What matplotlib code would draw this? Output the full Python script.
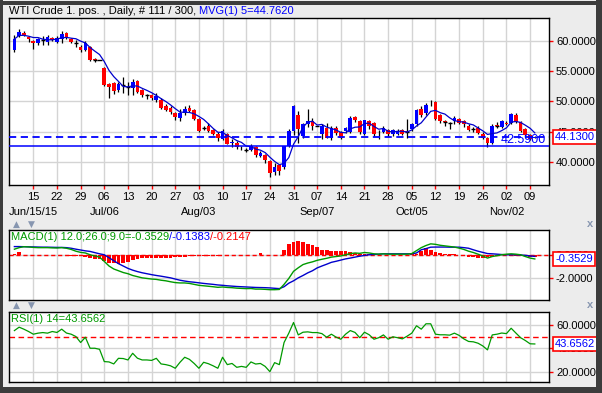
import matplotlib
matplotlib.use("Agg")
import matplotlib.pyplot as plt
import numpy as np
import pandas as pd
from matplotlib.patches import Rectangle
from matplotlib.transforms import blended_transform_factory

plt.rcParams['font.family'] = ['Liberation Sans', 'DejaVu Sans']

# ---- data (one value per daily bar) ----
opens = [58.5, 60.9, 61.4, 60.7, 60.05, 59.6, 60.2, 59.9, 60.45, 59.8,
         60.33, 61.3, 60.33, 59.75, 59.05, 58.5, 58.95, 56.95, 56.9, 55.6,
         52.95, 53.1, 51.9, 52.75, 52.45, 52.3, 53.4, 51.9, 51.05, 51.0,
         50.2, 50.3, 49.3, 48.9, 48.05, 47.3, 48.05, 48.9, 48.6, 47.1,
         45.65, 46.0, 45.3, 44.7, 43.8, 44.6, 43.2, 43.2, 42.5, 42.05,
         42.0, 42.4, 41.0, 41.1, 40.2, 38.3, 39.45, 39.2, 42.7, 45.2,
         47.7, 44.33, 46.3, 46.8, 46.0, 44.6, 45.7, 44.05, 45.55, 44.9,
         45.05, 45.0, 47.4, 46.8, 44.7, 46.7, 46.4, 44.6, 45.0, 45.3,
         44.6, 44.6, 45.3, 45.05, 45.45, 46.3, 48.8, 48.05, 49.8, 49.9,
         47.7, 46.7, 46.45, 46.7, 47.1, 46.7, 46.0, 45.45, 45.7, 44.7,
         44.05, 43.2, 46.05, 45.8, 46.5, 46.4, 47.7, 46.55, 45.4, 44.4,
         43.9]
highs = [61.0, 62.0, 61.7, 60.9, 60.2, 60.5, 60.9, 61.0, 60.6, 60.8,
         61.6, 61.5, 60.5, 60.2, 59.3, 60.0, 59.1, 57.2, 56.9, 55.7,
         53.1, 53.3, 53.3, 54.1, 53.3, 53.7, 53.6, 52.0, 51.3, 51.2,
         51.4, 50.5, 49.6, 49.2, 48.2, 48.8, 49.2, 49.4, 48.8, 47.2,
         45.9, 46.4, 45.5, 44.9, 45.4, 44.8, 43.8, 43.4, 42.7, 42.3,
         43.0, 42.6, 41.8, 41.3, 40.3, 39.9, 39.6, 42.7, 45.4, 49.5,
         48.5, 46.5, 48.7, 47.2, 46.0, 46.3, 46.4, 46.0, 45.9, 45.1,
         45.8, 47.6, 47.6, 47.0, 47.0, 46.9, 46.6, 45.3, 45.9, 45.5,
         45.5, 45.4, 45.5, 47.1, 46.5, 48.8, 49.2, 49.8, 50.2, 50.0,
         47.9, 47.0, 46.6, 47.6, 47.3, 46.9, 46.2, 45.8, 45.9, 45.0,
         44.2, 46.2, 46.6, 46.9, 46.7, 48.1, 48.1, 46.7, 45.6, 44.6,
         44.3]
lows = [58.2, 60.6, 60.8, 59.8, 58.7, 59.3, 59.3, 59.3, 60.0, 59.6,
        59.7, 60.4, 59.6, 59.0, 58.2, 58.3, 56.7, 56.6, 56.9, 52.5,
        50.6, 51.3, 51.6, 51.4, 51.1, 51.0, 51.4, 50.8, 50.4, 50.3,
        49.9, 48.8, 48.4, 48.0, 46.9, 46.7, 47.8, 48.3, 46.9, 45.0,
        45.3, 44.9, 44.5, 43.5, 43.7, 42.9, 42.4, 42.2, 42.0, 41.6,
        41.8, 40.9, 40.8, 39.9, 37.6, 37.8, 37.9, 38.9, 42.4, 44.5,
        43.2, 44.0, 45.8, 45.3, 46.0, 43.8, 43.9, 43.7, 44.4, 43.8,
        44.8, 44.8, 46.6, 44.6, 44.4, 45.5, 44.3, 43.8, 44.8, 44.3,
        44.3, 44.4, 44.4, 44.05, 45.2, 46.0, 47.5, 47.8, 49.3, 46.9,
        46.5, 46.0, 45.5, 46.3, 46.2, 45.8, 45.1, 44.9, 44.6, 43.8,
        42.5, 43.0, 45.6, 45.6, 46.1, 46.2, 46.4, 45.0, 44.2, 43.6,
        43.9]
closes = [60.33, 61.5, 61.0, 60.33, 59.7, 60.3, 60.15, 60.6, 60.17, 60.45,
          61.2, 60.6, 59.9, 59.7, 58.5, 59.7, 56.8, 56.9, 56.9, 52.7,
          52.4, 51.7, 52.9, 52.7, 52.4, 53.2, 51.6, 51.0, 51.0, 50.5,
          50.9, 49.0, 48.6, 48.2, 47.4, 48.05, 48.8, 48.5, 47.1, 45.2,
          45.6, 45.2, 44.7, 43.9, 45.05, 43.05, 43.3, 42.4, 42.4, 42.0,
          42.7, 41.2, 41.5, 40.4, 38.2, 39.2, 38.5, 42.6, 45.2, 49.2,
          45.45, 46.28, 46.8, 46.0, 46.0, 46.0, 44.05, 45.6, 44.8, 44.05,
          45.6, 47.3, 47.0, 45.0, 46.9, 45.9, 44.6, 44.7, 45.6, 44.6,
          45.3, 45.2, 44.7, 45.0, 46.28, 48.6, 47.83, 49.45, 49.7, 47.1,
          46.7, 46.65, 46.4, 47.3, 46.4, 46.2, 45.3, 45.45, 44.8, 44.05,
          43.2, 46.0, 46.0, 46.7, 46.3, 47.95, 46.55, 45.2, 44.4, 43.8,
          44.13]
support_level = 42.59

macd_line = [0.47, 0.60, 0.68, 0.66, 0.62, 0.60, 0.60, 0.60, 0.58, 0.57,
             0.60, 0.55, 0.45, 0.30, 0.20, 0.15, 0.00, -0.10, -0.20, -0.56,
             -0.95, -1.20, -1.35, -1.50, -1.60, -1.75, -1.85, -1.95, -2.00, -2.05,
             -2.08, -2.15, -2.20, -2.28, -2.35, -2.38, -2.38, -2.42, -2.50, -2.58,
             -2.62, -2.66, -2.70, -2.75, -2.72, -2.76, -2.78, -2.82, -2.84, -2.86,
             -2.85, -2.90, -2.90, -2.92, -2.95, -2.95, -2.93, -2.50, -2.00, -1.40,
             -1.10, -0.83, -0.70, -0.60, -0.47, -0.38, -0.30, -0.20, -0.15, -0.10,
             0.00, 0.10, 0.15, 0.12, 0.19, 0.15, 0.08, 0.05, 0.08, 0.05,
             0.05, 0.05, 0.05, 0.05, 0.10, 0.35, 0.60, 0.78, 0.92, 0.88,
             0.80, 0.75, 0.70, 0.65, 0.56, 0.45, 0.30, 0.19, 0.05, -0.10,
             -0.28, -0.15, -0.08, 0.00, 0.05, 0.08, 0.05, 0.00, -0.15, -0.28,
             -0.3529]
signal_line = [0.69, 0.69, 0.68, 0.67, 0.66, 0.65, 0.64, 0.64, 0.63, 0.62,
               0.62, 0.60, 0.55, 0.47, 0.40, 0.33, 0.28, 0.18, 0.08, 0.00,
               -0.25, -0.50, -0.75, -0.95, -1.15, -1.30, -1.42, -1.52, -1.60, -1.68,
               -1.75, -1.81, -1.88, -1.95, -2.05, -2.15, -2.22, -2.28, -2.32, -2.37,
               -2.42, -2.46, -2.50, -2.55, -2.58, -2.62, -2.65, -2.68, -2.70, -2.72,
               -2.74, -2.76, -2.77, -2.78, -2.80, -2.83, -2.86, -2.70, -2.40, -2.20,
               -1.95, -1.75, -1.53, -1.35, -1.11, -0.95, -0.80, -0.64, -0.55, -0.45,
               -0.35, -0.28, -0.20, -0.12, -0.06, 0.00, 0.03, 0.05, 0.08, 0.08,
               0.08, 0.08, 0.08, 0.08, 0.08, 0.15, 0.42, 0.52, 0.64, 0.65,
               0.65, 0.65, 0.64, 0.64, 0.64, 0.60, 0.55, 0.42, 0.30, 0.20,
               0.10, 0.08, 0.05, 0.02, 0.00, 0.00, 0.00, -0.02, -0.05, -0.10,
               -0.1383]
macd_hist = [0.10, 0.20, 0.02, 0.02, 0.00, 0.02, 0.00, 0.02, 0.00, 0.02,
             0.02, -0.05, -0.08, -0.08, -0.10, -0.17, -0.30, -0.35, -0.40, -0.50,
             -0.67, -0.72, -0.78, -0.72, -0.58, -0.44, -0.39, -0.31, -0.30, -0.30,
             -0.30, -0.28, -0.28, -0.28, -0.22, -0.17, -0.15, -0.12, -0.10, -0.12,
             -0.10, -0.10, -0.08, -0.10, -0.06, -0.08, -0.06, -0.06, -0.06, -0.05,
             -0.04, -0.06, 0.15, -0.04, -0.05, -0.05, -0.04, 0.39, 0.94, 1.08,
             1.14, 1.10, 0.94, 0.80, 0.67, 0.44, 0.39, 0.33, 0.30, 0.33,
             0.28, 0.25, 0.17, 0.10, 0.10, 0.05, 0.03, 0.02, 0.00, 0.00,
             0.00, 0.00, 0.00, 0.00, 0.10, 0.10, 0.33, 0.53, 0.44, 0.25,
             0.15, 0.10, 0.08, 0.05, 0.00, -0.06, -0.17, -0.22, -0.31, -0.25,
             -0.20, -0.15, -0.10, -0.05, 0.10, -0.08, -0.12, -0.10, -0.12, -0.17,
             -0.2147]
rsi = [55.1, 58.0, 56.3, 54.3, 52.0, 52.9, 53.4, 52.9, 54.3, 53.5,
       56.3, 53.0, 52.0, 50.0, 44.9, 49.4, 40.0, 40.0, 39.1, 28.6,
       28.3, 26.6, 31.4, 31.2, 30.0, 35.7, 31.5, 30.0, 30.0, 29.6,
       31.4, 26.6, 26.0, 25.0, 22.9, 28.0, 32.3, 30.5, 27.0, 22.9,
       28.0, 26.8, 25.0, 22.9, 32.3, 26.0, 27.0, 23.7, 24.5, 23.7,
       28.3, 26.5, 27.0, 24.5, 20.0, 27.7, 26.0, 44.9, 52.9, 62.0,
       51.4, 53.7, 54.0, 53.4, 53.4, 52.5, 49.4, 52.0, 49.5, 47.7,
       52.0, 55.1, 53.5, 49.0, 53.7, 51.5, 47.7, 49.0, 51.4, 47.7,
       49.8, 49.0, 48.0, 50.3, 52.9, 59.2, 56.3, 60.9, 60.9, 52.0,
       51.5, 51.5, 51.2, 52.9, 51.0, 48.0, 45.8, 45.5, 44.3, 42.0,
       38.6, 51.4, 52.0, 53.0, 52.5, 57.1, 53.0, 49.0, 46.6, 43.8,
       43.6562]

day_labels = ['15', '22', '29', '06', '13', '20', '27', '03', '10', '17', '24',
              '31', '07', '14', '21', '28', '05', '12', '19', '26', '02', '09']
month_labels = ['Jun/15/15', 'Jul/06', 'Aug/03', 'Sep/07', 'Oct/05', 'Nov/02']
month_pos = [0, 3, 7, 12, 16, 20]

price_ticks = [40, 45, 50, 55, 60]
macd_ticks = [-2, 0]
rsi_ticks = [20, 40, 60]

# ---- layout ----
W, H = 602, 393
BG = '#ececec'
GRID = '#d4d4d4'
BLUE = '#0000ff'
RED = '#ff0000'
GREEN = '#009a00'

x = np.arange(len(closes))
tick_idx = [4 + 5 * k for k in range(len(day_labels))]
XMIN, XMAX = -1.14, 113.0


def px_box(x0, y0, x1, y1):
    return [x0 / W, 1 - y1 / H, (x1 - x0) / W, (y1 - y0) / H]


def style(ax, yticks, ylim):
    ax.set_facecolor('white')
    ax.set_xlim(XMIN, XMAX)
    ax.set_ylim(*ylim)
    ax.set_xticks(tick_idx)
    ax.set_yticks(yticks)
    ax.set_yticklabels(['{:.4f}'.format(v) for v in yticks])
    ax.yaxis.tick_right()
    ax.tick_params(axis='y', color='red', labelcolor='black', length=3,
                   width=1, pad=2, labelsize=8)
    ax.grid(True, color=GRID, lw=1)
    ax.set_axisbelow(True)
    for s in ax.spines.values():
        s.set_color('black')
        s.set_linewidth(1)


def value_box(ax, y, text):
    tr = blended_transform_factory(ax.transAxes, ax.transData)
    ax.text(1.0115, y, text, transform=tr, ha='left', va='center', color=BLUE,
            fontsize=8, clip_on=False, zorder=10,
            bbox=dict(boxstyle='square,pad=0.18', fc='white', ec='red', lw=1.2))


fig = plt.figure(figsize=(W / 100, H / 100), dpi=100, facecolor=BG)

# ---- price panel ----
ax = fig.add_axes(px_box(9, 18, 549, 185))
style(ax, price_ticks, (36.2, 63.8))
ax.tick_params(axis='x', color='red', labelcolor='black', length=3, width=1,
               pad=2, labelsize=8)
ax.set_xticklabels(day_labels)

o = np.array(opens)
c = np.array(closes)
ax.vlines(x, lows, highs, color='black', lw=0.9, zorder=2)
cols = np.where(c > o, BLUE, RED)
ax.bar(x, c - o, bottom=o, width=0.78, color=cols, lw=0, zorder=3)
flat = np.abs(c - o) < 0.08
ax.hlines(c[flat], x[flat] - 0.45, x[flat] + 0.45, color='black', lw=1, zorder=3)

ma5 = pd.Series(closes).rolling(5, min_periods=1).mean()
ax.plot(x, ma5, color='#0000cc', lw=0.9, zorder=4)

ax.axhline(closes[-1], color=BLUE, lw=1.3, ls=(0, (4, 2.5)), zorder=4)
ax.axhline(support_level, color=BLUE, lw=1.1, zorder=4)
ax.text(0.995, support_level + 0.05, '{:.4f}'.format(support_level),
        transform=blended_transform_factory(ax.transAxes, ax.transData),
        ha='right', va='bottom', color=BLUE, fontsize=9, zorder=5)
value_box(ax, closes[-1], '{:.4f}'.format(closes[-1]))

tr = blended_transform_factory(ax.transData, ax.transAxes)
for lab, k in zip(month_labels, month_pos):
    ax.text(tick_idx[k], -0.159, lab, transform=tr, ha='center', va='center',
            fontsize=8)

t1 = fig.text(9 / W, 1 - 11 / H, 'WTI Crude 1. pos. , Daily, # 111 / 300, ',
              fontsize=8, va='center', ha='left')
ax.annotate('MVG(1) 5={:.4f}'.format(44.762), xy=(1, 0), xycoords=t1,
            va='bottom', ha='left', fontsize=8, color=BLUE, annotation_clip=False)

# ---- MACD panel ----
am = fig.add_axes(px_box(9, 230, 549, 300))
style(am, macd_ticks, (-3.82, 2.09))
am.tick_params(axis='x', length=0, labelbottom=False)
am.axhline(0, color=RED, lw=1, ls=(0, (3, 2)), zorder=1)
am.bar(x, macd_hist, width=0.8, color=RED, lw=0, zorder=2)
am.plot(x, signal_line, color='#0000cc', lw=1, zorder=3)
am.plot(x, macd_line, color=GREEN, lw=1, zorder=4)
value_box(am, macd_line[-1], '{:.4f}'.format(macd_line[-1]))
m1 = am.text(0.003, 0.97, 'MACD(1) 12.0;26.0;9.0={:.4f}'.format(macd_line[-1]),
             transform=am.transAxes, va='top', ha='left', fontsize=8, color=GREEN)
m2 = am.annotate('/{:.4f}'.format(signal_line[-1]), xy=(1, 0), xycoords=m1,
                 va='bottom', ha='left', fontsize=8, color=BLUE)
am.annotate('/{:.4f}'.format(macd_hist[-1]), xy=(1, 0), xycoords=m2,
            va='bottom', ha='left', fontsize=8, color=RED)

# ---- RSI panel ----
ar = fig.add_axes(px_box(9, 311.5, 549, 382.3))
style(ar, rsi_ticks, (10.9, 71.4))
ar.tick_params(axis='x', length=0, labelbottom=False)
ar.axhline(50, color=RED, lw=1, ls=(0, (4, 2.5)), zorder=1)
ar.plot(x, rsi, color=GREEN, lw=0.9, zorder=3)
value_box(ar, rsi[-1], '{:.4f}'.format(rsi[-1]))
ar.text(0.003, 0.97, 'RSI(1) 14={:.4f}'.format(rsi[-1]), transform=ar.transAxes,
        va='top', ha='left', fontsize=8, color=GREEN)

# ---- window chrome ----
for yy in (224, 305):
    fig.text(16 / W, 1 - yy / H, '\u25b2', color='#8796b0', fontsize=6.5,
             family='DejaVu Sans', ha='center', va='center')
    fig.text(31 / W, 1 - yy / H, '\u25bc', color='#8796b0', fontsize=6.5,
             family='DejaVu Sans', ha='center', va='center')
    fig.text(590 / W, 1 - yy / H, 'x', color='#8796b0', fontsize=8,
             fontweight='bold', ha='center', va='center')

frame = '#3c3c3c'
for bx in [(0, 0, 2.5, H), (596, 0, W, H), (0, 387, W, H), (0, 1.5, W, 4.5)]:
    fig.add_artist(Rectangle((bx[0] / W, 1 - bx[3] / H), (bx[2] - bx[0]) / W,
                             (bx[3] - bx[1]) / H, transform=fig.transFigure,
                             fc=frame, ec='none', zorder=20))

fig.savefig('out.png', dpi=100, facecolor=BG)
